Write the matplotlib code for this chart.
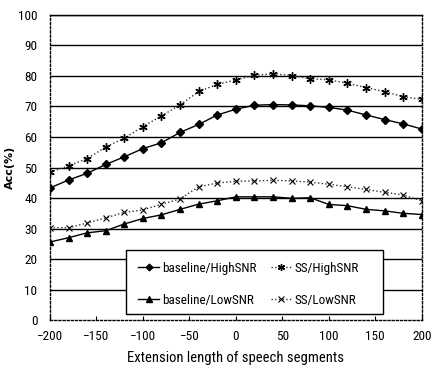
import matplotlib
matplotlib.use("Agg")
import matplotlib.pyplot as plt
from matplotlib.patches import Rectangle

plt.rcParams['font.family'] = ['Roboto Condensed', 'Roboto', 'DejaVu Sans']

# Extension length (x) and accuracy values
ext = [-200, -180, -160, -140, -120, -100, -80, -60, -40, -20, 0,
       20, 40, 60, 80, 100, 120, 140, 160, 180, 200]

base_high = [43.3, 45.9, 48.1, 51.0, 53.5, 56.2, 58.1, 61.5, 64.1, 67.2, 69.1,
             70.4, 70.6, 70.5, 70.2, 69.7, 68.8, 67.2, 65.7, 64.3, 62.6]
ss_high = [48.4, 50.6, 52.9, 56.7, 59.6, 63.4, 66.9, 70.5, 74.9, 77.2, 78.7,
           80.2, 80.7, 80.1, 79.1, 78.7, 77.6, 76.2, 74.8, 73.2, 72.3]
base_low = [25.6, 27.0, 28.6, 29.3, 31.5, 33.3, 34.5, 36.3, 38.0, 39.1, 40.4,
            40.4, 40.4, 39.9, 40.1, 37.9, 37.5, 36.3, 35.8, 35.0, 34.6]
ss_low = [30.3, 30.3, 31.8, 33.5, 35.3, 36.1, 38.0, 39.7, 43.7, 44.9, 45.5,
          45.6, 45.8, 45.6, 45.2, 44.5, 43.7, 42.8, 41.9, 41.0, 39.1]

xticks = [-200, -150, -100, -50, 0, 50, 100, 150, 200]
yticks = [0, 10, 20, 30, 40, 50, 60, 70, 80, 90, 100]

fig = plt.figure(figsize=(4.38, 3.71), dpi=100)
ax = fig.add_axes([0.114, 0.137, 0.849, 0.823])

# horizontal gridlines
for yv in yticks[1:]:
    ax.axhline(yv, color="black", lw=1.0, zorder=1)

star = (6, 2, 0)
ax.plot(ext, base_high, color="black", lw=1.0, marker="D", ms=4,
        label="baseline/HighSNR", zorder=3)
ax.plot(ext, base_low, color="black", lw=1.0, marker="^", ms=5,
        label="baseline/LowSNR", zorder=3)
ax.plot(ext, ss_high, color="#333333", lw=1.0, ls=":", marker=star, ms=6,
        mec="black", mew=1.0, label="SS/HighSNR", zorder=3)
ax.plot(ext, ss_low, color="#333333", lw=1.0, ls=":", marker="x", ms=4.5,
        mec="black", mew=0.8, label="SS/LowSNR", zorder=3)

ax.set_xlim(-200, 200)
ax.set_ylim(0, 100)
ax.set_xticks(xticks)
ax.set_yticks(yticks)
ax.tick_params(axis="x", direction="in", length=3, labelsize=9.5, pad=7)
ax.tick_params(axis="y", length=0, labelsize=9.5, pad=9)

for side in ["left", "right", "bottom"]:
    ax.spines[side].set_linestyle((0, (1.5, 1.5)))
    ax.spines[side].set_linewidth(1.0)
ax.spines["top"].set_linewidth(1.0)

ax.set_xlabel("Extension length of speech segments", fontsize=10.5, labelpad=6)
ax.set_ylabel("Acc(%)", fontsize=8, fontweight="bold", family="DejaVu Sans")
ax.yaxis.set_label_coords(-0.094, 0.5)

# legend box (drawn separately so its wide right margin matches)
box = Rectangle((0.204, 0.020), 0.691, 0.210, transform=ax.transAxes,
                facecolor="white", edgecolor="black", lw=1.0, zorder=4)
ax.add_patch(box)

leg = ax.legend(ncol=2, loc="center left", bbox_to_anchor=(0.219, 0.118),
                fontsize=9.5, frameon=False, handlelength=1.6,
                columnspacing=1.1, labelspacing=1.45, borderpad=0.0,
                handletextpad=0.2, markerscale=0.85)
leg.set_zorder(5)

fig.savefig("out.png", dpi=100)
